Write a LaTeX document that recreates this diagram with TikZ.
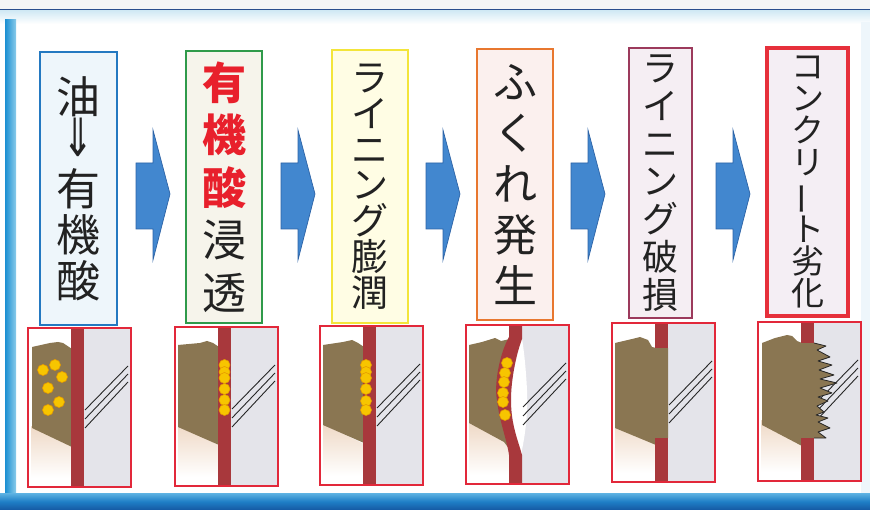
\documentclass[tikz,border=0pt]{standalone}
\usepackage{fontspec}
\setmainfont{Noto Sans CJK JP}
\newfontfamily\symfont{DejaVu Sans}

\definecolor{navyline}{HTML}{2B4E8C}
\definecolor{skyband}{HTML}{CFE8F4}
\definecolor{stripblue}{HTML}{1B8FD2}
\definecolor{stripsoft}{HTML}{8ACBEA}
\definecolor{footlight}{HTML}{5FB3E3}
\definecolor{footblue}{HTML}{1F7FC6}
\definecolor{footdark}{HTML}{1559A3}
\definecolor{arrowblue}{HTML}{4287CF}
\definecolor{arrowedge}{HTML}{2D63A6}
\definecolor{oilblue}{HTML}{2479C1}
\definecolor{oilfill}{HTML}{EEF6FB}
\definecolor{acidgreen}{HTML}{2F9A4A}
\definecolor{acidfill}{HTML}{F6F4EB}
\definecolor{acidred}{HTML}{E8202C}
\definecolor{swellyellow}{HTML}{F3E53A}
\definecolor{swellfill}{HTML}{FFFDE4}
\definecolor{blisterorange}{HTML}{E8772F}
\definecolor{blisterfill}{HTML}{FBF0EE}
\definecolor{breakplum}{HTML}{9C3A5C}
\definecolor{breakfill}{HTML}{F5EEF3}
\definecolor{decayred}{HTML}{E6303B}
\definecolor{decayfill}{HTML}{F4EEF4}
\definecolor{framered}{HTML}{E2283A}
\definecolor{liningred}{HTML}{A8383C}
\definecolor{mud}{HTML}{8A7652}
\definecolor{concrete}{HTML}{E4E4EA}
\definecolor{fadebeige}{HTML}{EFD9C6}
\definecolor{grityellow}{HTML}{F7C500}
\definecolor{gritrim}{HTML}{E59A00}
\definecolor{ink}{HTML}{222222}

\newcommand{\redk}[1]{{\color{acidred}\bfseries #1}}
\newcommand{\vbar}{\rotatebox[origin=c]{90}{ー}}

% wall section: concrete side, fading deposit, crack lines
\newcommand{\panelgray}{%
  \shade[top color=fadebeige, bottom color=white] (3,98) -- (44,118) -- (44,150) -- (3,150) -- cycle;
  \fill[concrete] (56,0) rectangle (103,159);}
\newcommand{\panelhatch}{%
  \foreach \k in {0,1,2} \draw[hatch] (57,82+9*\k) -- (100,38+8*\k);}
\newcommand{\panelframe}{\draw[panelframe] (0,0) rectangle (103,159);}

\begin{document}
\begin{tikzpicture}[x=1pt,y=-1pt,
  labelbox/.style={draw, line width=2pt, inner sep=0pt, align=center, text=ink},
  flow/.style={fill=arrowblue, draw=arrowedge, line width=0.7pt},
  panelframe/.style={draw=framered, line width=2.4pt},
  hatch/.style={draw=black!85, line width=0.9pt},
  grit/.style={fill=grityellow, draw=gritrim, line width=0.6pt},
  lining/.style={fill=liningred},
  deposit/.style={fill=mud}]
\useasboundingbox (0,0) rectangle (870,510);

% frame of the sheet
\fill[black!4] (0,0) rectangle (870,9);
\shade[top color=skyband, bottom color=white] (0,10) rectangle (870,24);
\draw[navyline, line width=1.5pt] (0,9.5) -- (870,9.5);
\shade[left color=stripblue, right color=stripsoft] (5,20) rectangle (16,496);
\fill[oilfill] (861,22) rectangle (870,494);
\shade[top color=footlight, bottom color=footdark, middle color=footblue] (0,493) rectangle (870,510);

% stage labels
\node[labelbox, draw=oilblue, fill=oilfill, minimum width=77pt, minimum height=273pt,
  font=\fontsize{44}{46}\selectfont] (t1) at (78.5,188.5)
  {油\\\raisebox{3pt}{\scalebox{0.85}[1.2]{\symfont ⇓}}\\有\\機\\酸};
\node[labelbox, draw=acidgreen, fill=acidfill, minimum width=76pt, minimum height=272pt,
  font=\fontsize{44}{52.5}\selectfont] (t2) at (224,187)
  {\redk{有}\\\redk{機}\\\redk{酸}\\浸\\透};
\node[labelbox, draw=swellyellow, fill=swellfill, minimum width=76pt, minimum height=273pt,
  font=\fontsize{37}{35.8}\selectfont] (t3) at (370,186.5)
  {ラ\\イ\\ニ\\ン\\グ\\膨\\潤};
\node[labelbox, draw=blisterorange, fill=blisterfill, minimum width=76pt, minimum height=271pt,
  font=\fontsize{44}{51}\selectfont] (t4) at (515,184.5)
  {ふ\\く\\れ\\発\\生};
\node[labelbox, draw=breakplum, fill=breakfill, minimum width=63pt, minimum height=270pt,
  font=\fontsize{36}{37.7}\selectfont] (t5) at (660.5,183)
  {ラ\\イ\\ニ\\ン\\グ\\破\\損};
\node[labelbox, draw=decayred, fill=decayfill, line width=4pt, minimum width=81pt, minimum height=268pt,
  font=\fontsize{33}{32}\selectfont] (t6) at (807.5,182)
  {コ\\ン\\ク\\リ\\\vbar\\ト\\劣\\化};

% block arrows between stages
\foreach \dx in {0,145,290,435,580}
  \draw[flow, shift={(\dx,0)}] (136,163) -- (153,163) -- (153,130) -- (170,194)
    -- (153,260) -- (153,229) -- (136,229) -- cycle;

% 1: oil turns into organic acid
\begin{scope}[shift={(28,328)}]
  \panelgray \panelhatch
  \fill[deposit] (4,19) -- (22,15) -- (30,14) -- (35,15) -- (44,21) -- (44,119) -- (4,100) -- cycle;
  \fill[lining] (43,0) rectangle (56,159);
  \foreach \p in {(15,42),(27,37),(34,49),(20,60),(31,74),(20,82)} \fill[grit] \p circle (5.5);
  \panelframe
\end{scope}

% 2: acid soaks into the lining
\begin{scope}[shift={(175,327)}]
  \panelgray \panelhatch
  \fill[deposit] (3,18) -- (25,16) -- (32,14) -- (38,16) -- (44,20) -- (44,118) -- (3,100) -- cycle;
  \fill[lining] (43,0) rectangle (56,159);
  \foreach \y in {38,45,51,62,73,83} \fill[grit] (49.5,\y) circle (5.5);
  \panelframe
\end{scope}

% 3: lining swells
\begin{scope}[shift={(320,326)}]
  \panelgray \panelhatch
  \fill[deposit] (3,19) -- (23,16) -- (32,14) -- (38,17) -- (44,21) -- (44,117) -- (3,99) -- cycle;
  \fill[lining] (43,0) rectangle (56,159);
  \foreach \y in {39,46,52,63,75,84} \fill[grit] (46,\y) circle (5.5);
  \panelframe
\end{scope}

% 4: blister opens behind the lining
\begin{scope}[shift={(466,325)}]
  \panelgray
  \fill[white] (56,14) .. controls (50,30) and (45,55) .. (45,75)
    .. controls (45,100) and (52,115) .. (56,125)
    .. controls (60,105) and (62,85) .. (61,65)
    .. controls (60,45) and (58,25) .. (56,14) -- cycle;
  \panelhatch
  \fill[deposit] (3,20) -- (16,17) -- (29,13) -- (35,16) -- (44,14) -- (44,125) -- (38,117) -- (3,98) -- cycle;
  \fill[lining] (43,0) -- (43,12) .. controls (33,30) and (28,60) .. (31,75)
    .. controls (33,95) and (41,115) .. (43,130) -- (43,159) -- (56,159) -- (56,130)
    .. controls (52,115) and (45,100) .. (45,75)
    .. controls (45,55) and (50,30) .. (56,14) -- (56,0) -- cycle;
  \foreach \p in {(41,38),(39,48),(38,57),(37,68),(37,77),(39,90)} \fill[grit] \p circle (5.5);
  \panelframe
\end{scope}

% 5: lining breaks
\begin{scope}[shift={(612,323)}]
  \panelgray \panelhatch
  \fill[deposit] (3,20) -- (20,16) -- (28,14) -- (36,17) -- (40,24) -- (44,25) -- (56,25)
    -- (56,115) -- (44,122) -- (3,105) -- cycle;
  \fill[lining] (43,0) rectangle (56,25);
  \fill[lining] (43,115) rectangle (56,159);
  \panelframe
\end{scope}

% 6: concrete is eaten away
\begin{scope}[shift={(758,322)}]
  \panelgray \panelhatch
  \fill[deposit] (4,21) -- (17,16) -- (29,13) -- (34,14) -- (39,19) -- (44,21) -- (56,21)
    -- (68,24) -- (59,28) -- (72,35) -- (60,39) -- (74,43) -- (61,48) -- (76,53) -- (62,57)
    -- (79,61) -- (62,66) -- (74,71) -- (60,75) -- (70,79) -- (59,84) -- (66,90) -- (58,93)
    -- (70,96) -- (60,100) -- (72,106) -- (60,110) -- (68,116) -- (56,116)
    -- (44,124) -- (4,103) -- cycle;
  \draw[black!85, line width=0.8pt, line join=round] (56,21)
    -- (68,24) -- (59,28) -- (72,35) -- (60,39) -- (74,43) -- (61,48) -- (76,53) -- (62,57)
    -- (79,61) -- (62,66) -- (74,71) -- (60,75) -- (70,79) -- (59,84) -- (66,90) -- (58,93)
    -- (70,96) -- (60,100) -- (72,106) -- (60,110) -- (68,116) -- (56,116);
  \fill[lining] (43,0) rectangle (56,21);
  \fill[lining] (43,116) rectangle (56,159);
  \panelframe
\end{scope}
\end{tikzpicture}
\end{document}
